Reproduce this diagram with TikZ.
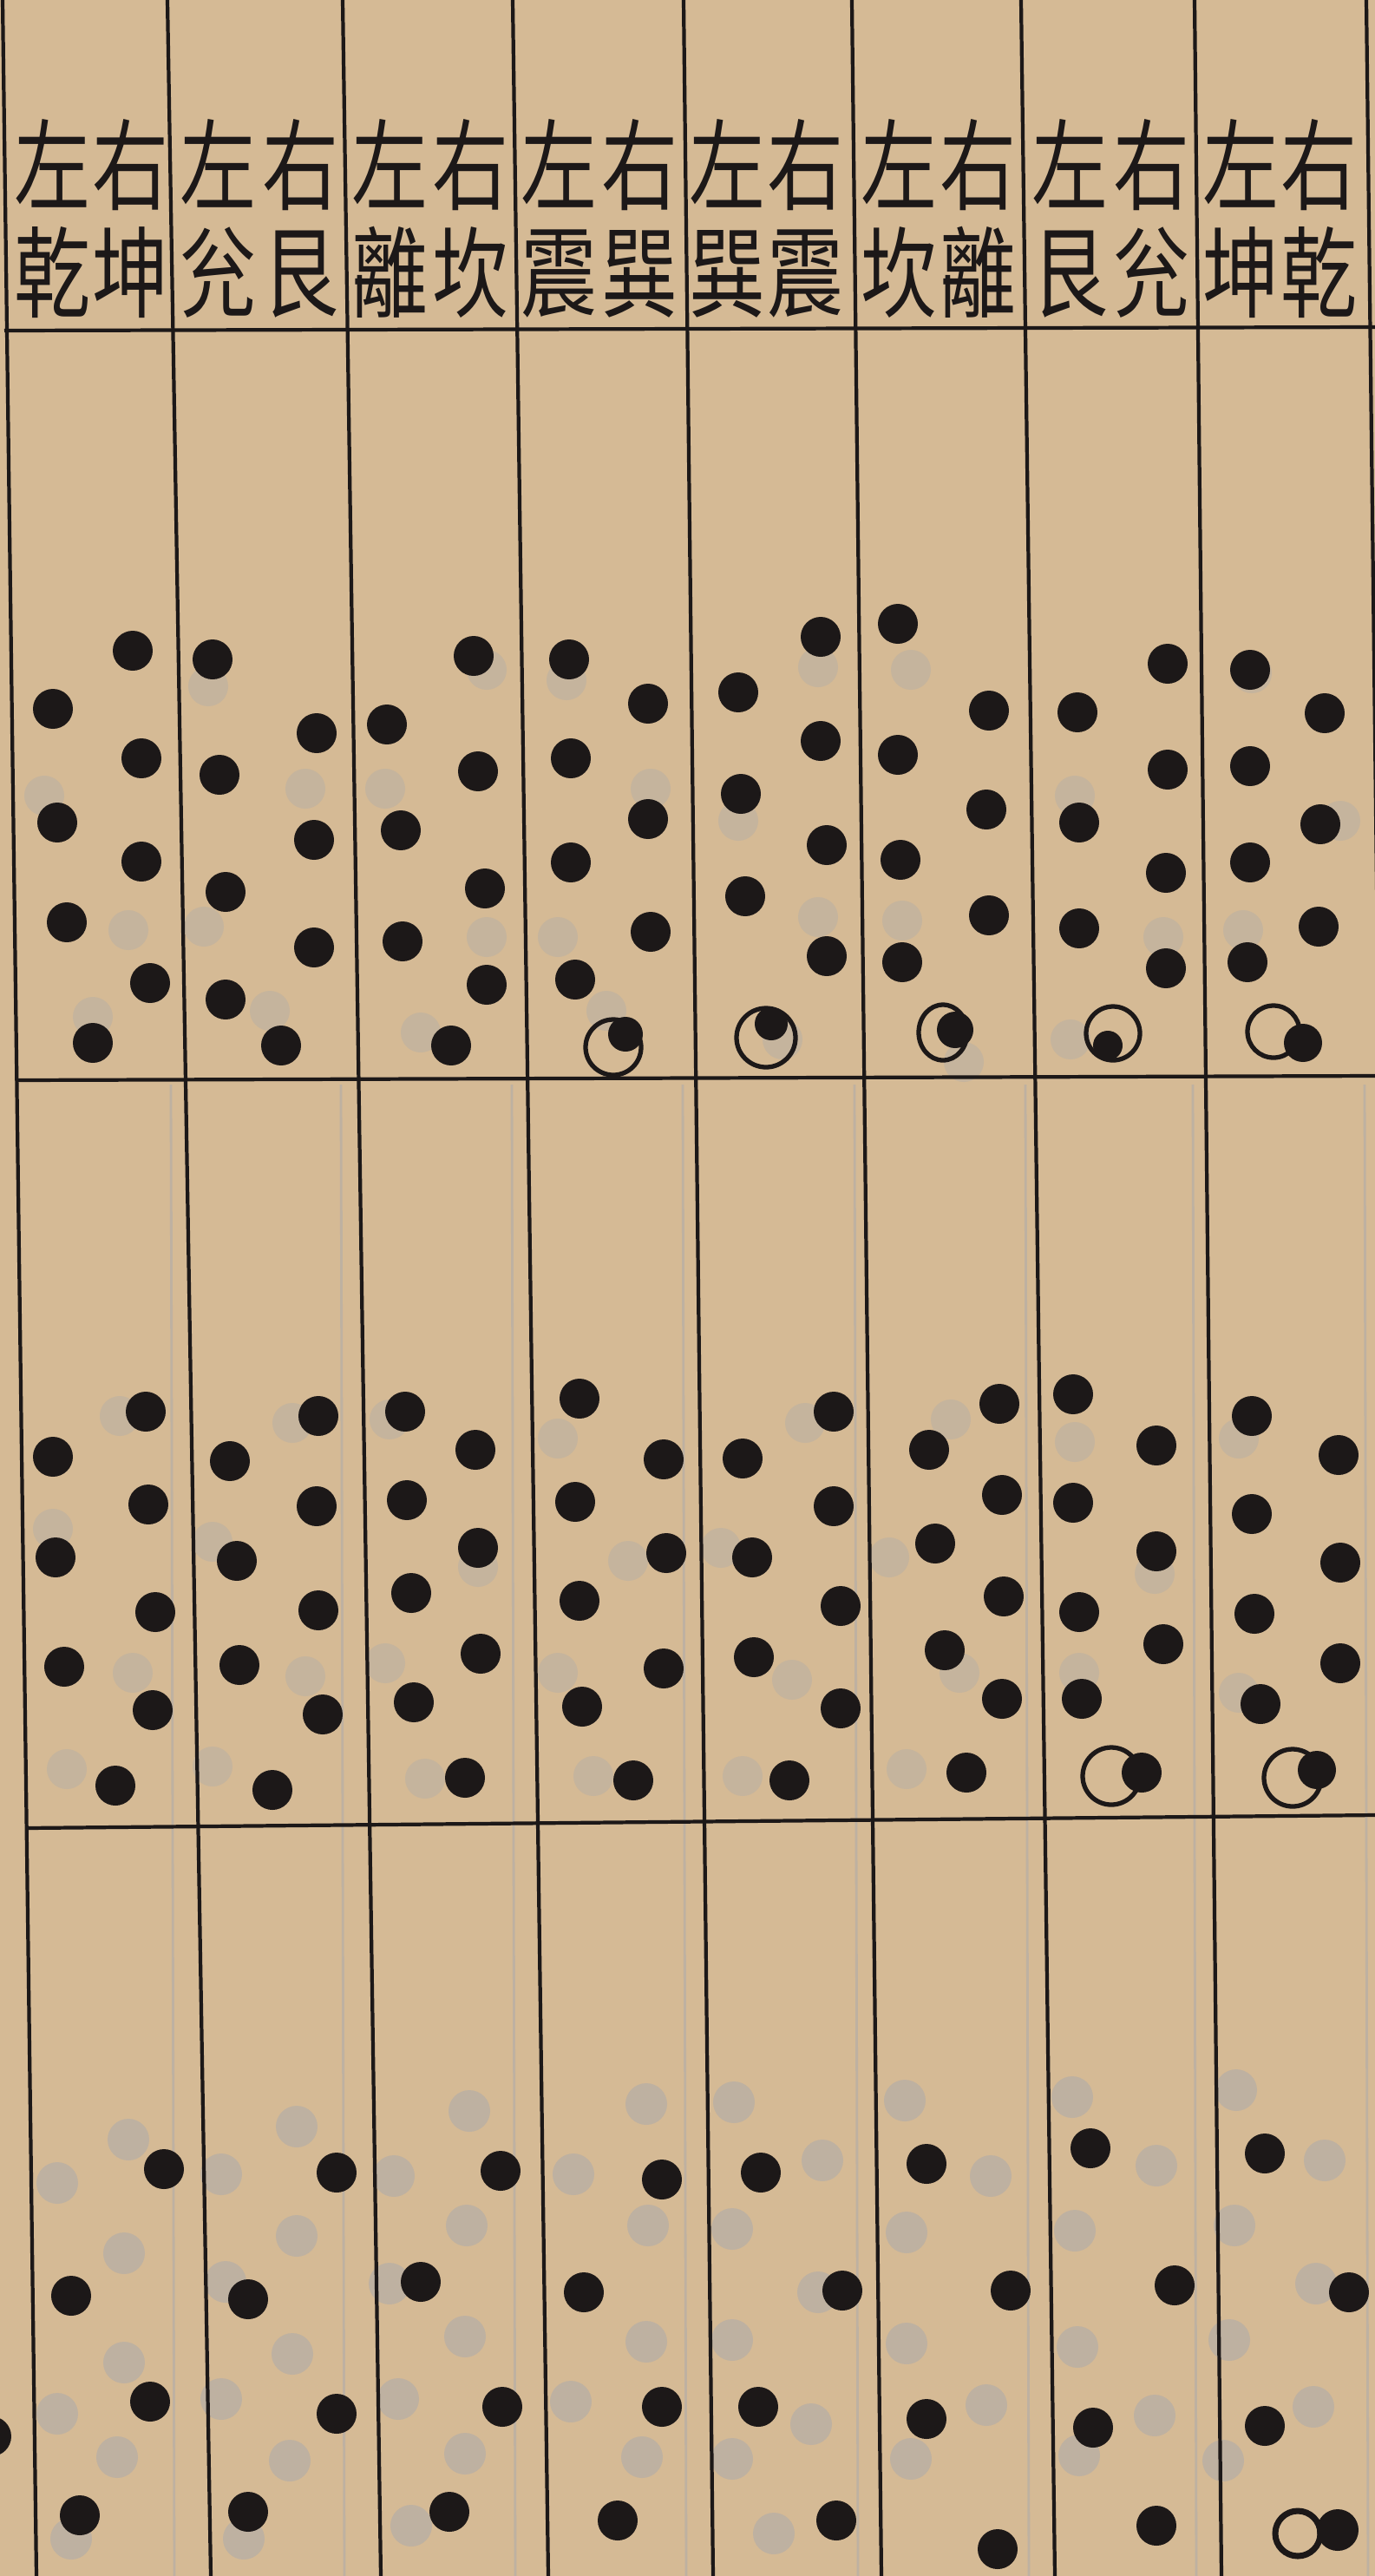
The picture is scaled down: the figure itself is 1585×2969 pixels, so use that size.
\documentclass[tikz,border=0pt]{standalone}
\usepackage{fontspec}
\newfontfamily\cjk{Noto Sans CJK TC}
\definecolor{paper}{RGB}{213,186,149}
\definecolor{ink}{RGB}{28,24,24}
\definecolor{bleed}{RGB}{190,177,161}
\begin{document}
\begin{tikzpicture}[x=0.01cm, y=-0.01cm,
    rule/.style={draw=ink, line width=1.2pt},
    backrule/.style={draw=bleed, line width=0.8pt},
    ring/.style={draw=ink, line width=1.5pt},
    lab/.style={font=\cjk\fontsize{25}{27}\selectfont, text=ink, align=center, inner sep=0pt, yscale=1.3}]
    \useasboundingbox (0,0) rectangle (1585,2969);
    \clip (0,0) rectangle (1585,2969);
    \fill[paper] (0,0) rectangle (1585,2969);
    % show-through from the back of the leaf
    \foreach \x in {197,393,590,787,985,1182,1375,1573}
        \draw[backrule] (\x,1250) -- (\x+4,2969);
    \foreach \x/\y in {51/917,148/1072,240/791,235/1068,352/909,444/909,561/772,561/1080,653/784,643/1080,750/909,107/1172,311/1165,485/1190,699/1165,
                       943/769,851/946,943/1057,1050/772,1040/1061,1239/917,1341/1080,1433/1072,1545/946,1443/776,902/1198,1111/1224,1234/1198}
        \fill[bleed!70!paper] (\x,\y) circle[radius=23];
    \foreach \x/\y in {138/1632,61/1762,153/1928,77/2039,337/1640,245/1777,352/1932,245/2036,449/1636,551/1806,444/1917,490/2050,643/1658,724/1799,643/1928,684/2047,
                       928/1640,831/1784,913/1936,856/2047,1096/1636,1025/1795,1106/1928,1045/2039,1239/1662,1331/1814,1244/1928,1428/1658,1428/1951}
        \fill[bleed!70!paper] (\x,\y) circle[radius=23];
    \foreach \x/\y in {148/2466,66/2516,143/2597,143/2723,66/2782,135/2832,82/2926,255/2506,342/2451,342/2577,260/2630,337/2713,255/2765,334/2836,281/2926,
                       454/2508,541/2433,538/2565,449/2632,536/2693,459/2765,536/2828,474/2911,661/2506,745/2425,747/2565,745/2699,658/2768,740/2832,
                       846/2423,948/2490,844/2569,943/2642,844/2697,935/2794,844/2834,892/2920,1043/2421,1142/2508,1045/2573,1045/2701,1137/2772,1050/2834,
                       1236/2417,1333/2496,1239/2571,1242/2705,1331/2784,1244/2830,1425/2409,1527/2490,1423/2565,1517/2632,1417/2697,1514/2774,1410/2836}
        \fill[bleed] (\x,\y) circle[radius=24];
    % column rules
    \draw[rule] (3,0) -- (42,2969);
    \draw[rule] (193,0) -- (243,2969);
    \draw[rule] (395,0) -- (439,2969);
    \draw[rule] (591,0) -- (632,2969);
    \draw[rule] (788,0) -- (822,2969);
    \draw[rule] (982,0) -- (1016,2969);
    \draw[rule] (1177,0) -- (1216,2969);
    \draw[rule] (1377,0) -- (1408,2969);
    \draw[rule] (1575,0) -- (1610,2969);
    % row rules
    \draw[rule] (5,381) -- (1585,377);
    \draw[rule] (18,1245) -- (1585,1240);
    \draw[rule] (30,2107) -- (1585,2092);
    % labels
    \node[lab] (l1) at (60,252) {左\\乾};
    \node[lab] (r1) at (150,252) {右\\坤};
    \node[lab] (l2) at (251,252) {左\\兊};
    \node[lab] (r2) at (346,252) {右\\艮};
    \node[lab] (l3) at (449,252) {左\\離};
    \node[lab] (r3) at (542,252) {右\\坎};
    \node[lab] (l4) at (644,252) {左\\震};
    \node[lab] (r4) at (737,252) {右\\巽};
    \node[lab] (l5) at (838,252) {左\\巽};
    \node[lab] (r5) at (928,252) {右\\震};
    \node[lab] (l6) at (1036,252) {左\\坎};
    \node[lab] (r6) at (1127,252) {右\\離};
    \node[lab] (l7) at (1233,252) {左\\艮};
    \node[lab] (r7) at (1327,252) {右\\兊};
    \node[lab] (l8) at (1430,252) {左\\坤};
    \node[lab] (r8) at (1520,252) {右\\乾};
    % row 1
    \foreach \x/\y in {153/750,61/817,163/874,66/948,163/993,77/1063,173/1133,107/1202,
                       245/760,365/845,253/893,362/968,260/1028,362/1092,260/1152,324/1205,
                       546/756,446/835,551/889,462/957,559/1024,464/1085,561/1135,520/1205,
                       656/760,747/811,658/874,747/944,658/994,750/1074,663/1129,
                       946/734,851/798,946/854,854/915,953/974,859/1033,953/1102,
                       1035/719,1140/819,1035/870,1137/933,1038/991,1140/1055,1040/1109,
                       1346/765,1242/821,1346/887,1244/948,1344/1006,1244/1070,1344/1116,
                       1441/772,1527/822,1441/883,1522/950,1441/994,1520/1068,1438/1109}
        \fill[ink] (\x,\y) circle[radius=23];
    \draw[ring] (707,1207) circle[radius=32];
    \fill[ink] (721,1192) circle[radius=20];
    \fill[ink] (889,1180) circle[radius=19];
    \draw[ring] (883,1196) circle[radius=34];
    \fill[ink] (1101,1187) circle[radius=21];
    \draw[ring] (1087,1190) ellipse[x radius=28, y radius=32];
    \fill[ink] (1277,1205) circle[radius=17];
    \draw[ring] (1283,1191) circle[radius=31];
    \draw[ring] (1468,1189) circle[radius=30];
    \fill[ink] (1502,1202) circle[radius=22];
    % row 2
    \foreach \x/\y in {168/1627,61/1679,171/1734,64/1795,179/1858,74/1921,176/1971,133/2058,
                       367/1632,265/1684,365/1736,273/1799,367/1856,276/1919,372/1976,314/2063,
                       467/1627,548/1671,469/1729,551/1784,474/1836,554/1906,477/1962,536/2049,
                       668/1612,765/1682,663/1731,768/1790,668/1845,765/1923,671/1967,730/2052,
                       961/1627,856/1681,961/1736,867/1795,969/1851,869/1910,969/1969,910/2052,
                       1152/1618,1071/1671,1155/1723,1078/1779,1157/1840,1089/1902,1155/1958,1114/2043,
                       1237/1607,1333/1666,1237/1732,1333/1788,1244/1858,1341/1895,1247/1958,
                       1443/1632,1543/1677,1443/1745,1545/1801,1446/1860,1545/1917,1453/1964}
        \fill[ink] (\x,\y) circle[radius=23];
    \draw[ring] (1281,2047) circle[radius=33];
    \fill[ink] (1316,2043) circle[radius=23];
    \draw[ring] (1490,2049) circle[radius=33];
    \fill[ink] (1518,2040) circle[radius=22];
    % row 3
    \foreach \x/\y in {189/2500,82/2646,173/2768,92/2899,
                       388/2504,286/2650,388/2782,286/2895,
                       577/2502,485/2630,579/2774,518/2895,
                       763/2512,673/2642,763/2774,712/2905,
                       877/2504,971/2640,874/2774,964/2905,
                       1068/2494,1165/2640,1068/2788,1150/2938,
                       1257/2476,1354/2634,1260/2798,1333/2911,
                       1458/2482,1555/2642,1458/2796,-10/2808}
        \fill[ink] (\x,\y) circle[radius=23];
    \draw[ring, line width=2pt] (1496,2920) circle[radius=26];
    \fill[ink] (1542,2916) circle[radius=24];
\end{tikzpicture}
\end{document}
